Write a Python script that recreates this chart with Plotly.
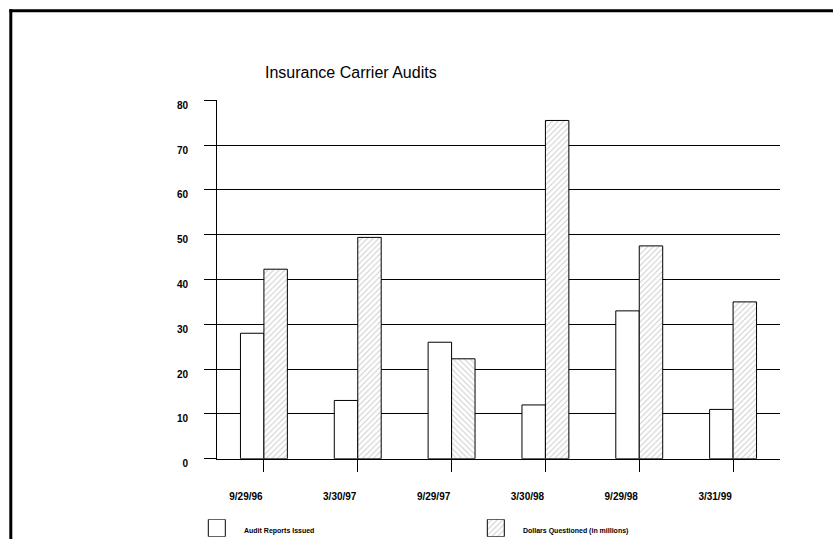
import plotly.graph_objects as go

# Reporting periods and values
periods = ["9/29/96", "3/30/97", "9/29/97", "3/30/98", "9/29/98", "3/31/99"]
audit_reports = [28, 13, 26, 12, 33, 11]
dollars_questioned = [42.3, 49.4, 22.3, 75.5, 47.5, 35.0]
hatch_dirs = ["/", "/", "\\", "/", "/", "/"]
y_ticks = [0, 10, 20, 30, 40, 50, 60, 70, 80]
series_names = ["Audit Reports Issued", "Dollars Questioned (in millions)"]

W, H = 833, 539
FONT = "Liberation Sans, Arial, sans-serif"
HATCH = dict(fgcolor="#9a9a9a", bgcolor="white", size=4, solidity=0.25)


def px_x(x):
    return x / W


def px_y(y):
    return 1 - y / H


fig = go.Figure()

fig.add_trace(go.Bar(
    x=periods, y=audit_reports, name=series_names[0],
    marker=dict(color="white", line=dict(color="black", width=1)),
    showlegend=False, hoverinfo="x+y",
))
fig.add_trace(go.Bar(
    x=periods, y=dollars_questioned, name=series_names[1],
    marker=dict(
        color="white",
        line=dict(color="black", width=1),
        pattern=dict(shape=hatch_dirs, **HATCH),
    ),
    showlegend=False, hoverinfo="x+y",
))

# Legend swatches on their own small axis below the chart
swatch_x = [216.8, 495.8]
fig.add_trace(go.Bar(
    x=[swatch_x[0]], y=[1], width=[17], xaxis="x2", yaxis="y2",
    marker=dict(color="white", line=dict(color="black", width=1)),
    showlegend=False, hoverinfo="skip",
))
fig.add_trace(go.Bar(
    x=[swatch_x[1]], y=[1], width=[17], xaxis="x2", yaxis="y2",
    marker=dict(color="white", line=dict(color="black", width=1),
                pattern=dict(shape="/", **HATCH)),
    showlegend=False, hoverinfo="skip",
))

fig.update_layout(
    width=W, height=H, autosize=False,
    margin=dict(l=0, r=0, t=0, b=0, pad=0, autoexpand=False),
    paper_bgcolor="white", plot_bgcolor="white",
    barmode="group", bargap=0.5, bargroupgap=0,
    font=dict(family=FONT, color="black"),
    xaxis=dict(
        domain=[px_x(217), px_x(780)],
        anchor="y",
        type="category",
        range=[-0.5, 5.5],
        showline=True, linecolor="black", linewidth=1,
        ticks="outside", ticklen=12, tickcolor="black", tickwidth=1,
        ticklabelshift=-18, ticklabelstandoff=16,
        tickfont=dict(size=10, family=FONT, weight="bold", color="black"),
        showgrid=False, zeroline=False, fixedrange=True, automargin=False,
    ),
    yaxis=dict(
        domain=[px_y(458.7), px_y(100.3)],
        anchor="x",
        range=[0, 80],
        tickvals=y_ticks,
        showline=True, linecolor="black", linewidth=1,
        ticks="outside", ticklen=12, tickcolor="black", tickwidth=1,
        ticklabelstandoff=14, ticklabelshift=5,
        tickfont=dict(size=10, family=FONT, weight="bold", color="black"),
        showgrid=True, gridcolor="black", gridwidth=1,
        zeroline=False, fixedrange=True, automargin=False,
    ),
    xaxis2=dict(
        domain=[0, 1], anchor="y2", range=[0, W], visible=False,
        fixedrange=True, automargin=False,
    ),
    yaxis2=dict(
        domain=[px_y(536.7), px_y(519.3)], anchor="x2", range=[0, 1],
        visible=False, fixedrange=True, automargin=False,
    ),
    showlegend=False,
)

# Title
fig.add_annotation(
    text="Insurance Carrier Audits", xref="paper", yref="paper",
    x=px_x(263), y=px_y(72), xanchor="left", yanchor="middle",
    showarrow=False, font=dict(size=16, family=FONT, color="black"),
)

# Legend labels
for name, lx in zip(series_names, [242, 521]):
    fig.add_annotation(
        text=name, xref="paper", yref="paper",
        x=px_x(lx), y=px_y(530.5), xanchor="left", yanchor="middle",
        showarrow=False,
        font=dict(size=7, family=FONT, weight="bold", color="black"),
    )

# Page frame (left and top edges)
fig.add_shape(type="line", xref="paper", yref="paper",
              x0=px_x(10.8), x1=px_x(10.8), y0=px_y(9.3), y1=0,
              line=dict(color="black", width=3))
fig.add_shape(type="line", xref="paper", yref="paper",
              x0=px_x(9.3), x1=1, y0=px_y(10.8), y1=px_y(10.8),
              line=dict(color="black", width=3))

fig.write_html("out.html")
